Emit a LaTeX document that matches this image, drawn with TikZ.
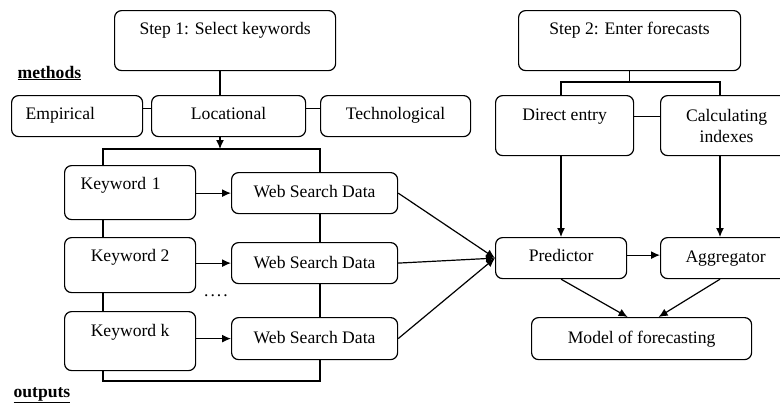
\documentclass[tikz,border=0pt]{standalone}
\usepackage{fontspec}
\setmainfont{Liberation Serif}
\usetikzlibrary{positioning,arrows.meta}
\tikzset{
  box/.style={draw, rounded corners=7pt, inner sep=0pt, anchor=north west, align=center},
  arr/.style={-{Latex[length=9pt,width=8pt]}}
}

\begin{document}
\begin{tikzpicture}[x=1pt,y=-1pt,line width=1.2pt,font=\fontsize{17.6}{21}\selectfont]
            \clip (0,0) rectangle (780,408);
            %Nodes
            \node[box, minimum width=221pt, text height=24pt, text depth=36pt] at (114,10) (step1) {Step 1: Select keywords};
            \node[box, minimum width=222pt, text height=24pt, text depth=36pt] at (518,10) (step2) {Step 2: Enter forecasts};
            \node[anchor=base west, inner sep=0pt] at (17,78) (methods) {\underline{\textbf{methods}}};
            \node[anchor=base west, inner sep=0pt] at (13,397) (outputs) {\underline{\textbf{outputs}}};

            \node[box, inner xsep=14pt, text width=103pt, align=left, text height=24pt, text depth=17pt] at (11,95) (emp) {Empirical};
            \node[box, minimum width=154pt, text height=24pt, text depth=17pt] at (151,95) (loc) {Locational};
            \node[box, minimum width=150pt, text height=24pt, text depth=17pt] at (320,95) (tech) {Technological};

            \node[box, inner xsep=16pt, text width=99pt, align=left, text height=24pt, text depth=30pt] at (64,165) (kw1) {Keyword 1};
            \node[box, minimum width=131pt, text height=24pt, text depth=31pt] at (64,237) (kw2) {Keyword 2};
            \node[box, minimum width=131pt, text height=25pt, text depth=34pt] at (64,311) (kwk) {Keyword k};
            \node[box, minimum width=166pt, text height=25pt, text depth=16pt] at (231,172) (wsd1) {Web Search Data};
            \node[box, minimum width=166pt, text height=26pt, text depth=15pt] at (231,242) (wsd2) {Web Search Data};
            \node[box, minimum width=166pt, text height=26pt, text depth=16pt] at (231,317) (wsd3) {Web Search Data};
            \node[anchor=base, inner sep=0pt] at (216,296) (dots) {.\kern2pt.\kern2pt.\kern2pt.};

            \node[box, minimum width=138pt, text height=25pt, text depth=35pt] at (495,95) (direct) {Direct entry};
            \node[box, minimum width=132pt, minimum height=60pt] at (660,95) (calc) {Calculating\\indexes};
            \node[box, minimum width=131pt, text height=24pt, text depth=17pt] at (495,237) (pred) {Predictor};
            \node[box, minimum width=130pt, text height=25pt, text depth=16pt] at (660,237) (agg) {Aggregator};
            \node[box, minimum width=220pt, text height=26pt, text depth=16pt] at (531,317) (model) {Model of forecasting};

            \coordinate (kl) at (103,149);
            \coordinate (wl) at (320,149);
            \coordinate (bot) at (320,381);
            \coordinate (dl) at (561,82);
            \coordinate (cl) at (720,82);

            %Lines
            \draw (step1.south -| 220,0) -- (loc.north -| 220,0);
            \draw ([yshift=7.5pt]emp.east) -- ([yshift=7.5pt]loc.west);
            \draw ([yshift=7.5pt]loc.east) -- ([yshift=7.5pt]tech.west);
            \draw[arr] (loc.south -| 220,0) -- (kl -| 220,0);
            \draw (kw1.north -| kl) -- (kl) -- (wl) -- (wsd1.north -| wl);
            \draw (kw1.south -| kl) -- (kw2.north -| kl);
            \draw (kw2.south -| kl) -- (kwk.north -| kl);
            \draw (wsd1.south -| wl) -- (wsd2.north -| wl);
            \draw (wsd2.south -| wl) -- (wsd3.north -| wl);
            \draw (kwk.south -| kl) -- (kl |- bot) -- (bot) -- (wsd3.south -| bot);
            \draw[arr] (kw1.east |- wsd1.west) -- (wsd1.west);
            \draw[arr] (kw2.east |- wsd2.west) -- (wsd2.west);
            \draw[arr] (kwk.east |- wsd3.west) -- (wsd3.west);
            \draw[arr] (wsd1.east) -- (pred.west);
            \draw[arr] (wsd2.east) -- (pred.west);
            \draw[arr] (wsd3.east) -- (pred.west);

            \draw (step2.south) -- (step2.south |- dl);
            \draw (direct.north -| dl) -- (dl) -- (cl) -- (calc.north -| cl);
            \draw ([yshift=9pt]direct.east) -- ([yshift=9pt]calc.west);
            \draw[arr] (direct.south -| dl) -- (pred.north -| dl);
            \draw[arr] (calc.south -| cl) -- (agg.north -| cl);
            \draw[arr] ([yshift=3pt]pred.east) -- ([yshift=3pt]pred.east -| agg.west);
            \draw[arr] (pred.south) -- ([xshift=-14pt]model.north);
            \draw[arr] (agg.south -| cl) -- ([xshift=17pt]model.north);
        \end{tikzpicture}
\end{document}
